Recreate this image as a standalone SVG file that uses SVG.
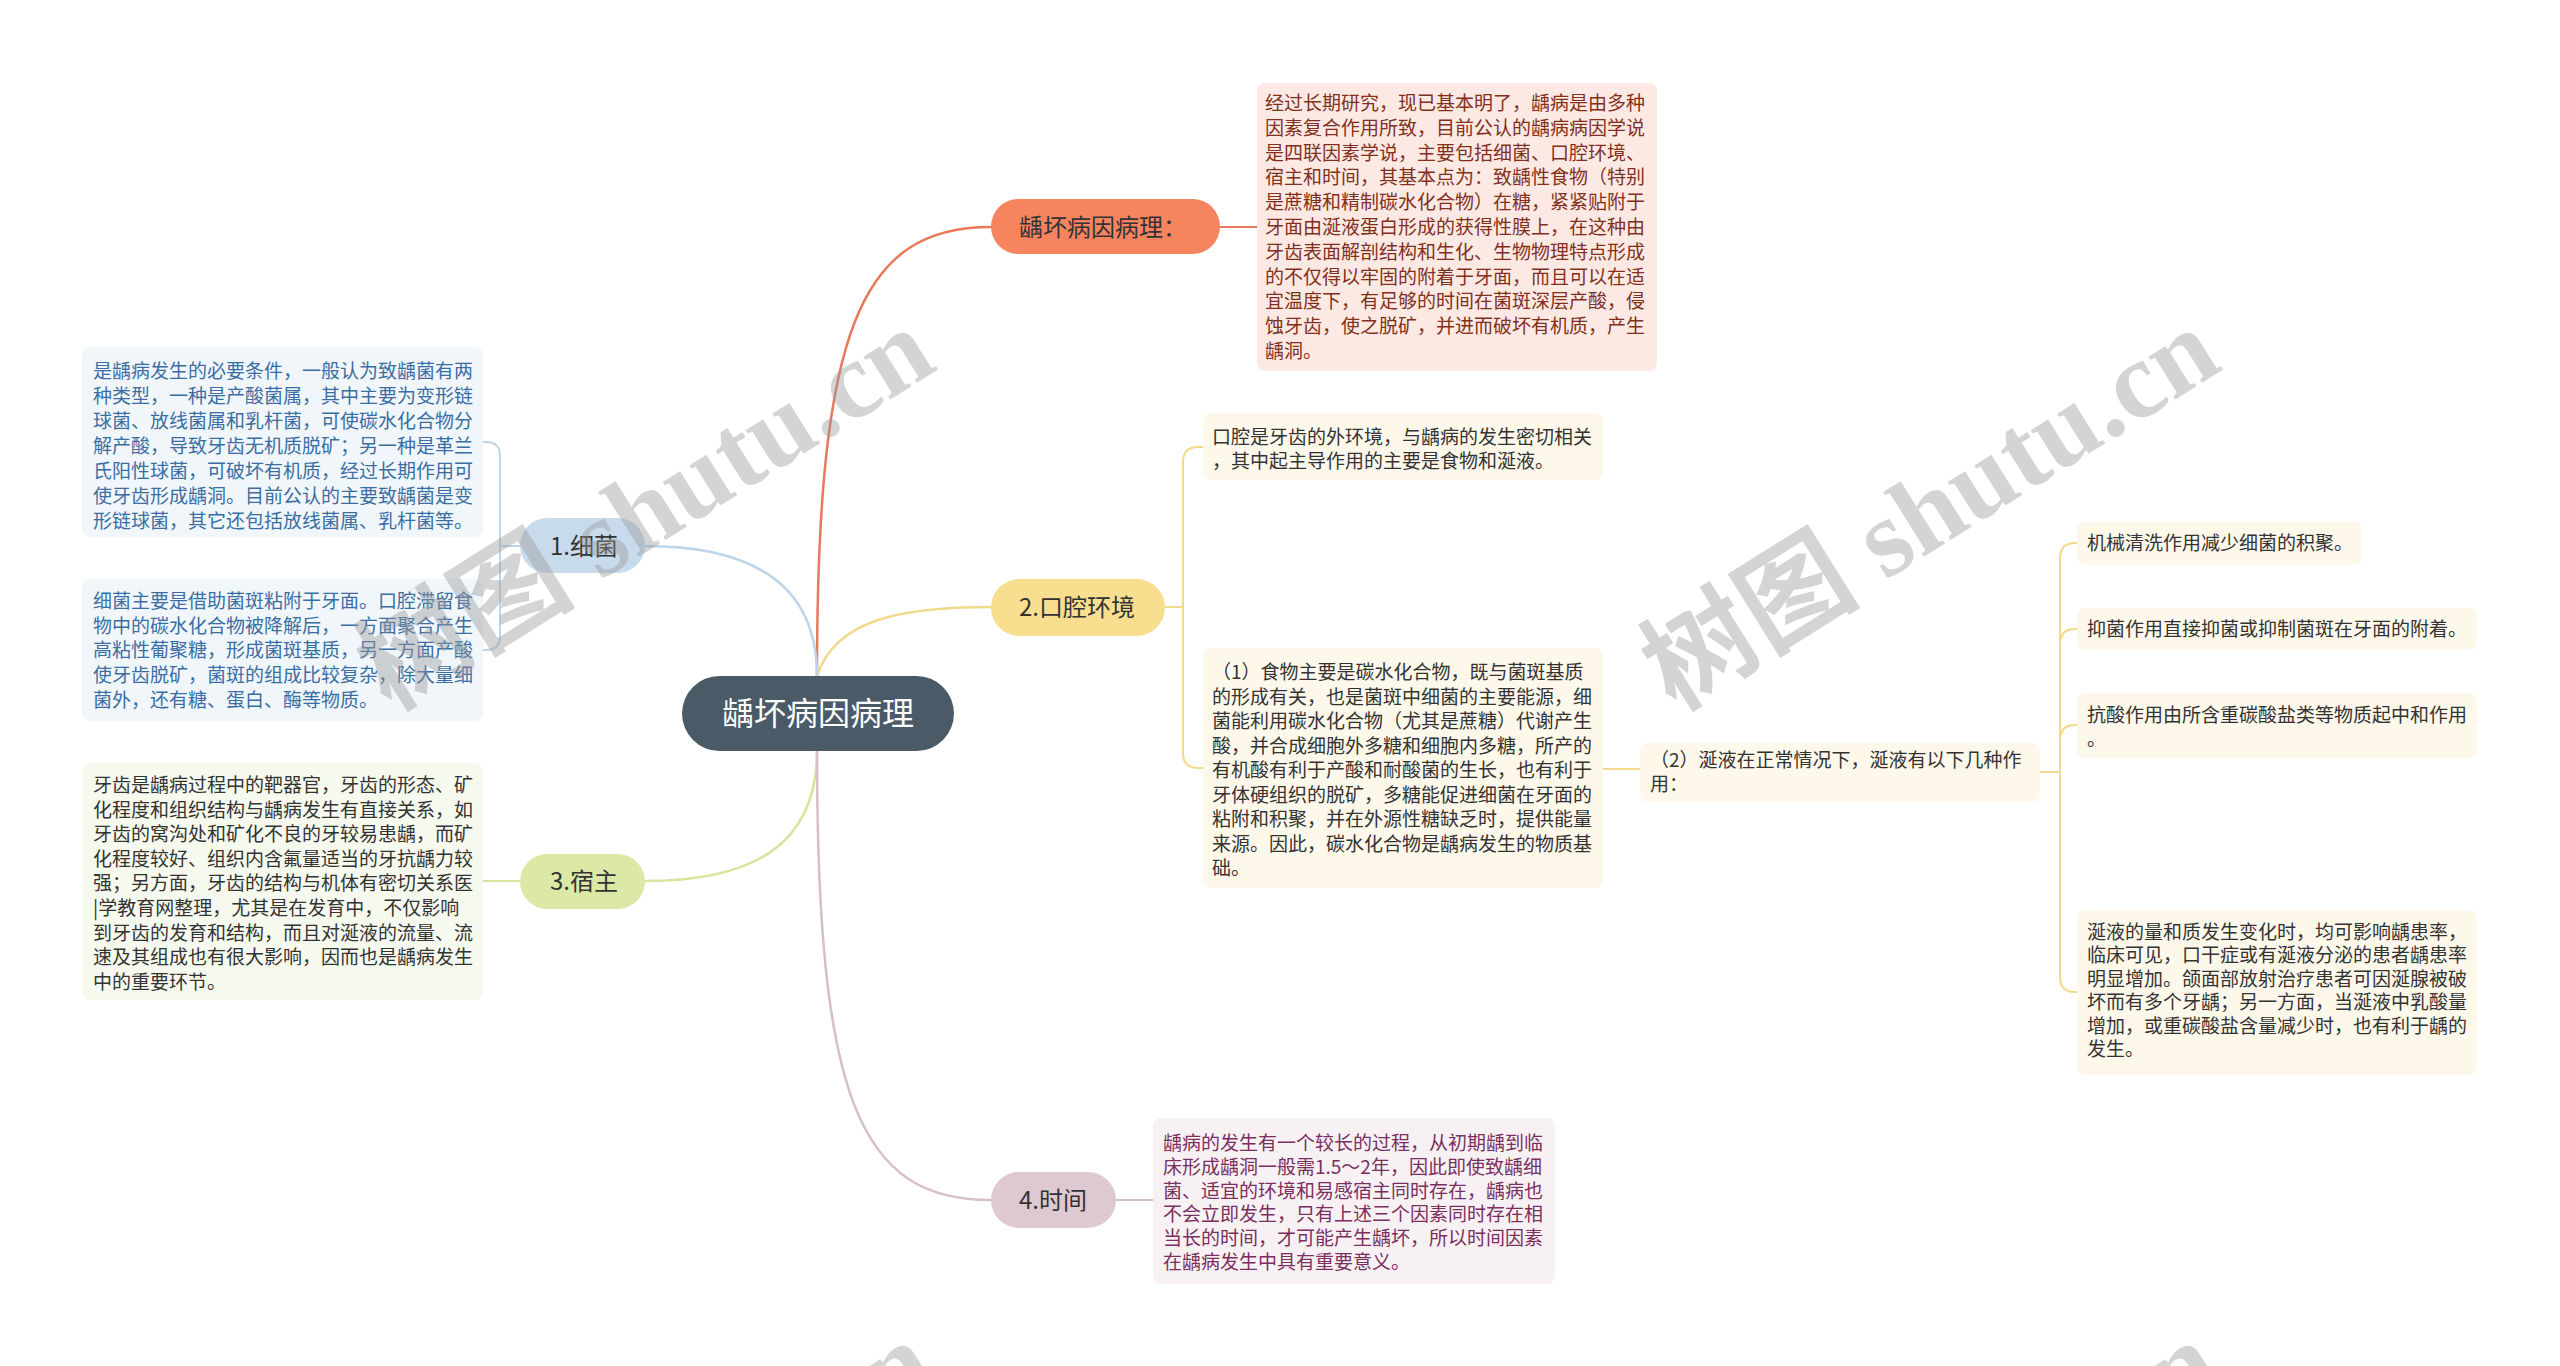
<svg xmlns="http://www.w3.org/2000/svg" width="2560" height="1366" viewBox="0 0 2560 1366">
<style>
text{font-family:"Noto Sans CJK SC","Noto Sans",sans-serif;}
.t{font-size:19px;}
.n{font-size:24px;fill:#333333;}
.c{font-size:32px;fill:#ffffff;}
.ln{fill:none;stroke-width:2.5;stroke-linecap:round;}
.br{fill:none;stroke-width:2;}
.wm{font-family:"Liberation Serif","Noto Sans CJK SC",serif;font-size:110px;font-weight:bold;fill:#9a9a9a;opacity:0.42;}
</style>
<rect width="2560" height="1366" fill="#ffffff"/>

<g id="connectors">
  <path class="ln" stroke="#E8795B" d="M817 676 C817 330 860 227 991 227"/>
  <path class="ln" stroke="#F2D98C" d="M817 676 C835 620 900 607 991 607"/>
  <path class="ln" stroke="#BED5E9" d="M817 676 C817 590 760 546 645 546"/>
  <path class="ln" stroke="#D6E49C" d="M817 751 C817 840 760 881 645 881"/>
  <path class="ln" stroke="#D5BFCA" d="M817 751 C817 1100 860 1200 991 1200"/>
  <path class="br" stroke="#E8795B" d="M1220 227 H1257"/>
  <path class="br" stroke="#D5BFCA" d="M1116 1200 H1153"/>
  <path class="br" stroke="#BED5E9" d="M520 546 H500 V456 Q500 442 486 442 H483"/>
  <path class="br" stroke="#BED5E9" d="M520 546 H500 V636 Q500 650 486 650 H483"/>
  <path class="br" stroke="#D6E49C" d="M520 881 H483"/>
  <path class="br" stroke="#F2D98C" d="M1165 607 H1183 V462 Q1183 447 1198 447 H1203"/>
  <path class="br" stroke="#F2D98C" d="M1165 607 H1183 V753 Q1183 768 1198 768 H1203"/>
  <path class="br" stroke="#F2D98C" d="M1603 769 H1640"/>
  <path class="br" stroke="#F2D98C" d="M2040 772 H2060 V558 Q2060 543 2075 543 H2077"/>
  <path class="br" stroke="#F2D98C" d="M2040 772 H2060 V644 Q2060 629 2075 629 H2077"/>
  <path class="br" stroke="#F2D98C" d="M2040 772 H2060 V740 Q2060 725 2075 725 H2077"/>
  <path class="br" stroke="#F2D98C" d="M2040 772 H2060 V977 Q2060 992 2075 992 H2077"/>
</g>

<g id="root">
  <rect x="682" y="676" width="272" height="75" rx="37.5" fill="#4A5A66"/>
  <text class="c" x="818" y="725" text-anchor="middle">龋坏病因病理</text>
</g>

<g id="n-pathology">
  <rect x="991" y="199" width="229" height="55" rx="27.5" fill="#F5845F"/>
  <text class="n" x="1019" y="236">龋坏病因病理：</text>
</g>
<g id="n-pathology-text">
  <rect x="1257" y="83" width="400" height="288" rx="8" fill="#FCE9E3"/>
  <text class="t" fill="#82301C">
    <tspan x="1265" y="110">经过长期研究，现已基本明了，龋病是由多种</tspan>
    <tspan x="1265" y="134.8">因素复合作用所致，目前公认的龋病病因学说</tspan>
    <tspan x="1265" y="159.6">是四联因素学说，主要包括细菌、口腔环境、</tspan>
    <tspan x="1265" y="184.4">宿主和时间，其基本点为：致龋性食物（特别</tspan>
    <tspan x="1265" y="209.2">是蔗糖和精制碳水化合物）在糖，紧紧贴附于</tspan>
    <tspan x="1265" y="234">牙面由涎液蛋白形成的获得性膜上，在这种由</tspan>
    <tspan x="1265" y="258.8">牙齿表面解剖结构和生化、生物物理特点形成</tspan>
    <tspan x="1265" y="283.6">的不仅得以牢固的附着于牙面，而且可以在适</tspan>
    <tspan x="1265" y="308.4">宜温度下，有足够的时间在菌斑深层产酸，侵</tspan>
    <tspan x="1265" y="333.2">蚀牙齿，使之脱矿，并进而破坏有机质，产生</tspan>
    <tspan x="1265" y="358">龋洞。</tspan>
  </text>
</g>

<g id="n-bacteria">
  <rect x="520" y="518" width="125" height="55" rx="27.5" fill="#C8DBEC"/>
  <text class="n" x="550" y="555">1.细菌</text>
</g>
<g id="n-bacteria-text1">
  <rect x="82" y="347" width="401" height="190" rx="8" fill="#F1F6FB"/>
  <text class="t" fill="#3A6EA3">
    <tspan x="93" y="378">是龋病发生的必要条件，一般认为致龋菌有两</tspan>
    <tspan x="93" y="403">种类型，一种是产酸菌属，其中主要为变形链</tspan>
    <tspan x="93" y="428">球菌、放线菌属和乳杆菌，可使碳水化合物分</tspan>
    <tspan x="93" y="453">解产酸，导致牙齿无机质脱矿；另一种是革兰</tspan>
    <tspan x="93" y="478">氏阳性球菌，可破坏有机质，经过长期作用可</tspan>
    <tspan x="93" y="503">使牙齿形成龋洞。目前公认的主要致龋菌是变</tspan>
    <tspan x="93" y="528">形链球菌，其它还包括放线菌属、乳杆菌等。</tspan>
  </text>
</g>
<g id="n-bacteria-text2">
  <rect x="82" y="579" width="401" height="142" rx="8" fill="#F1F6FB"/>
  <text class="t" fill="#3A6EA3">
    <tspan x="93" y="608">细菌主要是借助菌斑粘附于牙面。口腔滞留食</tspan>
    <tspan x="93" y="632.7">物中的碳水化合物被降解后，一方面聚合产生</tspan>
    <tspan x="93" y="657.4">高粘性葡聚糖，形成菌斑基质，另一方面产酸</tspan>
    <tspan x="93" y="682.1">使牙齿脱矿，菌斑的组成比较复杂，除大量细</tspan>
    <tspan x="93" y="706.8">菌外，还有糖、蛋白、酶等物质。</tspan>
  </text>
</g>

<g id="n-host">
  <rect x="520" y="854" width="125" height="55" rx="27.5" fill="#DCE9A6"/>
  <text class="n" x="550" y="890">3.宿主</text>
</g>
<g id="n-host-text">
  <rect x="82" y="763" width="401" height="237" rx="8" fill="#F6F9EE"/>
  <text class="t" fill="#333333">
    <tspan x="93" y="792">牙齿是龋病过程中的靶器官，牙齿的形态、矿</tspan>
    <tspan x="93" y="816.6">化程度和组织结构与龋病发生有直接关系，如</tspan>
    <tspan x="93" y="841.2">牙齿的窝沟处和矿化不良的牙较易患龋，而矿</tspan>
    <tspan x="93" y="865.8">化程度较好、组织内含氟量适当的牙抗龋力较</tspan>
    <tspan x="93" y="890.4">强；另方面，牙齿的结构与机体有密切关系医</tspan>
    <tspan x="93" y="915">|学教育网整理，尤其是在发育中，不仅影响</tspan>
    <tspan x="93" y="939.6">到牙齿的发育和结构，而且对涎液的流量、流</tspan>
    <tspan x="93" y="964.2">速及其组成也有很大影响，因而也是龋病发生</tspan>
    <tspan x="93" y="988.8">中的重要环节。</tspan>
  </text>
</g>

<g id="n-oral">
  <rect x="991" y="579" width="174" height="57" rx="28.5" fill="#F8DF8F"/>
  <text class="n" x="1019" y="616">2.口腔环境</text>
</g>
<g id="n-oral-text">
  <rect x="1203" y="413" width="400" height="67" rx="8" fill="#FDF8EA"/>
  <text class="t" fill="#333333">
    <tspan x="1212" y="444">口腔是牙齿的外环境，与龋病的发生密切相关</tspan>
    <tspan x="1212" y="468">，其中起主导作用的主要是食物和涎液。</tspan>
  </text>
</g>
<g id="n-food">
  <rect x="1203" y="648" width="400" height="240" rx="8" fill="#FDF8EA"/>
  <text class="t" fill="#333333">
    <tspan x="1212" y="679">（1）食物主要是碳水化合物，既与菌斑基质</tspan>
    <tspan x="1212" y="703.5">的形成有关，也是菌斑中细菌的主要能源，细</tspan>
    <tspan x="1212" y="728">菌能利用碳水化合物（尤其是蔗糖）代谢产生</tspan>
    <tspan x="1212" y="752.5">酸，并合成细胞外多糖和细胞内多糖，所产的</tspan>
    <tspan x="1212" y="777">有机酸有利于产酸和耐酸菌的生长，也有利于</tspan>
    <tspan x="1212" y="801.5">牙体硬组织的脱矿，多糖能促进细菌在牙面的</tspan>
    <tspan x="1212" y="826">粘附和积聚，并在外源性糖缺乏时，提供能量</tspan>
    <tspan x="1212" y="850.5">来源。因此，碳水化合物是龋病发生的物质基</tspan>
    <tspan x="1212" y="875">础。</tspan>
  </text>
</g>
<g id="n-saliva">
  <rect x="1640" y="743" width="400" height="59" rx="8" fill="#FDF8EA"/>
  <text class="t" fill="#333333">
    <tspan x="1650" y="767">（2）涎液在正常情况下，涎液有以下几种作</tspan>
    <tspan x="1650" y="791">用：</tspan>
  </text>
</g>
<g id="n-s1">
  <rect x="2077" y="522" width="285" height="43" rx="8" fill="#FDF8EA"/>
  <text class="t" fill="#333333" x="2087" y="550">机械清洗作用减少细菌的积聚。</text>
</g>
<g id="n-s2">
  <rect x="2077" y="608" width="400" height="42" rx="8" fill="#FDF8EA"/>
  <text class="t" fill="#333333" x="2087" y="636">抑菌作用直接抑菌或抑制菌斑在牙面的附着。</text>
</g>
<g id="n-s3">
  <rect x="2077" y="693" width="400" height="65" rx="8" fill="#FDF8EA"/>
  <text class="t" fill="#333333">
    <tspan x="2087" y="722">抗酸作用由所含重碳酸盐类等物质起中和作用</tspan>
    <tspan x="2087" y="746">。</tspan>
  </text>
</g>
<g id="n-s4">
  <rect x="2077" y="910" width="400" height="165" rx="8" fill="#FDF8EA"/>
  <text class="t" fill="#333333">
    <tspan x="2087" y="939">涎液的量和质发生变化时，均可影响龋患率，</tspan>
    <tspan x="2087" y="962.4">临床可见，口干症或有涎液分泌的患者龋患率</tspan>
    <tspan x="2087" y="985.8">明显增加。颌面部放射治疗患者可因涎腺被破</tspan>
    <tspan x="2087" y="1009.2">坏而有多个牙龋；另一方面，当涎液中乳酸量</tspan>
    <tspan x="2087" y="1032.6">增加，或重碳酸盐含量减少时，也有利于龋的</tspan>
    <tspan x="2087" y="1056">发生。</tspan>
  </text>
</g>

<g id="n-time">
  <rect x="991" y="1172" width="125" height="56" rx="28" fill="#DEC9D3"/>
  <text class="n" x="1019" y="1209">4.时间</text>
</g>
<g id="n-time-text">
  <rect x="1153" y="1118" width="402" height="166" rx="8" fill="#F8F1F4"/>
  <text class="t" fill="#7A2F5E">
    <tspan x="1163" y="1150">龋病的发生有一个较长的过程，从初期龋到临</tspan>
    <tspan x="1163" y="1173.8">床形成龋洞一般需1.5～2年，因此即使致龋细</tspan>
    <tspan x="1163" y="1197.6">菌、适宜的环境和易感宿主同时存在，龋病也</tspan>
    <tspan x="1163" y="1221.4">不会立即发生，只有上述三个因素同时存在相</tspan>
    <tspan x="1163" y="1245.2">当长的时间，才可能产生龋坏，所以时间因素</tspan>
    <tspan x="1163" y="1269">在龋病发生中具有重要意义。</tspan>
  </text>
</g>

<g id="watermarks">
  <text class="wm" transform="translate(390 712) rotate(-32)">树图 shutu.cn</text>
  <text class="wm" transform="translate(1675 712) rotate(-32)">树图 shutu.cn</text>
  <text class="wm" transform="translate(390 1725) rotate(-32)">树图 shutu.cn</text>
  <text class="wm" transform="translate(1675 1725) rotate(-32)">树图 shutu.cn</text>
</g>
</svg>
